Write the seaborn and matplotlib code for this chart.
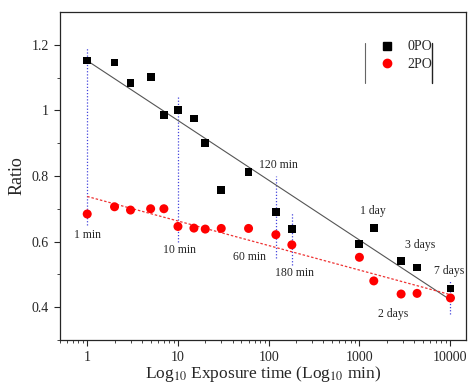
import numpy as np
import pandas as pd
import seaborn as sb
import matplotlib.pyplot as plt

# exposure times in minutes
time_min = [1, 2, 3, 5, 7, 10, 15, 20, 30, 60, 120, 180, 1000, 1440, 2880, 4320, 10080]
ratio_0po = [1.152, 1.146, 1.083, 1.101, 0.985, 1.0, 0.975, 0.90, 0.756, 0.811,
             0.690, 0.638, 0.592, 0.640, 0.542, 0.521, 0.457]
ratio_2po = [0.684, 0.706, 0.696, 0.700, 0.700, 0.646, 0.641, 0.638, 0.640, 0.640,
             0.621, 0.590, 0.552, 0.480, 0.440, 0.442, 0.428]

# vertical guide lines (x, ymin, ymax)
guide_x = [1, 10, 120, 180, 10080]
guide_lo = [0.65, 0.60, 0.55, 0.53, 0.38]
guide_hi = [1.19, 1.04, 0.80, 0.69, 0.48]

# annotation labels
label_text = ['1 min', '10 min', '60 min', '120 min', '180 min', '1 day', '2 days', '3 days', '7 days']
label_x = [1, 10.5, 62, 127, 194, 1400, 2350, 4700, 9800]
label_y = [0.621, 0.573, 0.552, 0.834, 0.503, 0.694, 0.379, 0.588, 0.51]

df0 = pd.DataFrame({'time': time_min, 'ratio': ratio_0po})
df2 = pd.DataFrame({'time': time_min, 'ratio': ratio_2po})

sb.set_style('ticks')
plt.rcParams['font.family'] = ['Liberation Serif', 'DejaVu Serif']
plt.rcParams['mathtext.fontset'] = 'stix'

fig = plt.figure(figsize=(4.68, 3.85), dpi=100)
ax = fig.add_axes([0.128, 0.117, 0.868, 0.852])

# blue guides
for gx, lo, hi in zip(guide_x, guide_lo, guide_hi):
    ax.plot([gx, gx], [lo, hi], color='#4444dd', lw=0.9, ls=(0, (1, 1.5)), zorder=1)

# linear fits on log time
sb.regplot(data=df0, x='time', y='ratio', logx=True, scatter=False, ci=None, ax=ax,
           line_kws=dict(color='#555555', lw=0.8, zorder=2))
sb.regplot(data=df2, x='time', y='ratio', logx=True, scatter=False, ci=None, ax=ax,
           line_kws=dict(color='#ee3333', lw=0.9, ls=(0, (2, 1.5)), zorder=2))

sb.scatterplot(data=df0, x='time', y='ratio', color='black', marker='s', s=32,
               edgecolor='none', ax=ax, zorder=3)
sb.scatterplot(data=df2, x='time', y='ratio', color='red', marker='o', s=42,
               edgecolor='none', ax=ax, zorder=3)

for t, lx, ly in zip(label_text, label_x, label_y):
    ax.text(lx, ly, t, ha='center', va='center', fontsize=8.5)

ax.set_xscale('log')
ax.set_xlim(0.5, 15000)
ax.set_ylim(0.3, 1.3)
ax.set_xticks([1, 10, 100, 1000, 10000])
ax.set_xticklabels(['1', '10', '100', '1000', '10000'])
ax.set_yticks([0.4, 0.6, 0.8, 1.0, 1.2])
ax.set_yticklabels(['0.4', '0.6', '0.8', '1', '1.2'])
ax.set_yticks([0.3, 0.5, 0.7, 0.9, 1.1], minor=True)
ax.tick_params(axis='both', which='major', labelsize=10, length=4, width=0.8, direction='out', pad=4)
ax.tick_params(axis='both', which='minor', length=2.5, width=0.6, direction='out')
ax.set_xlabel(r'Log$_{10}$ Exposure time (Log$_{10}$ min)', fontsize=12.5, labelpad=0)
ax.set_ylabel('Ratio', fontsize=13, labelpad=4)
for sp in ax.spines.values():
    sp.set_linewidth(0.9)
    sp.set_visible(True)

# legend
h0 = plt.Line2D([], [], ls='none', marker='s', color='black', markersize=5.2)
h1 = plt.Line2D([], [], ls='none', marker='o', color='red', markersize=6)
leg = ax.legend([h0, h1], ['0PO', '2PO'], loc='upper left', bbox_to_anchor=(0.77, 0.93),
                frameon=False, fontsize=10, handletextpad=0.9, labelspacing=0.3,
                borderaxespad=0, handlelength=1.2)
ax.plot([0.751, 0.751], [0.784, 0.905], color='#666666', lw=0.8, transform=ax.transAxes)
ax.plot([0.916, 0.916], [0.784, 0.905], color='#222222', lw=1.0, transform=ax.transAxes)

fig.savefig('out.png', dpi=100)
